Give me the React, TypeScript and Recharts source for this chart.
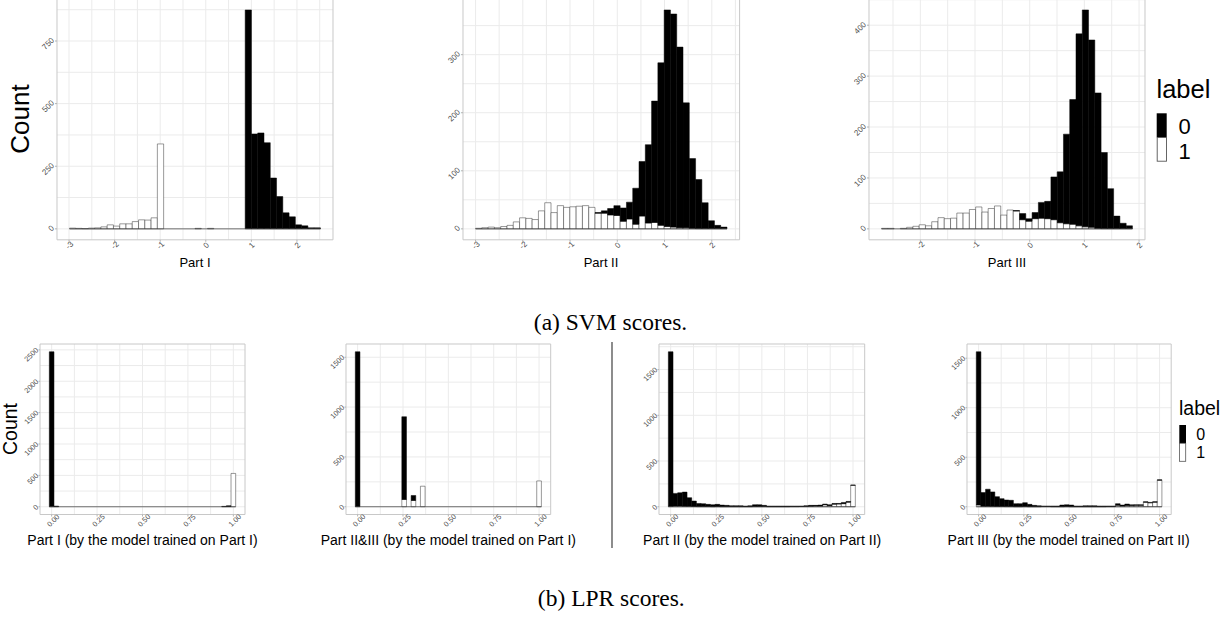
import React from "react";
import {
  BarChart,
  Bar,
  XAxis,
  YAxis,
  CartesianGrid,
  ReferenceArea,
  ReferenceLine,
} from "recharts";

const SANS = "'Liberation Sans', Arial, Helvetica, sans-serif";
const SERIF = "'Liberation Serif', 'Times New Roman', serif";

// 40 bins per histogram; range = centre of first and last bin (ggplot bins)
// (a) SVM scores
const svm1Range = [-2.92, 2.447];
const svm1One = [3, 2, 1, 3, 4, 8, 16, 11, 20, 20, 29, 36, 35, 44, 339, 0, 0, 0, 0, 0, 2, 0, 2, 0, 0, 0, 0, 0, 0, 0, 0, 0, 0, 0, 0, 0, 0, 0, 0, 0];
const svm1Zero = [0, 0, 0, 0, 0, 0, 0, 0, 0, 0, 0, 0, 0, 0, 0, 0, 0, 0, 0, 0, 0, 0, 0, 0, 0, 0, 0, 0, 874, 379, 383, 344, 203, 129, 64, 48, 16, 12, 4, 4];

const svm2Range = [-2.933, 2.256];
const svm2One = [1, 2, 3, 2, 4, 6, 12, 19, 18, 16, 31, 45, 28, 40, 37, 38, 39, 40, 37, 27, 27, 24, 23, 13, 17, 8, 22, 10, 11, 6, 4, 3, 2, 2, 1, 0, 0, 0, 0, 0];
const svm2Zero = [0, 0, 0, 0, 0, 0, 0, 0, 0, 0, 0, 0, 0, 0, 0, 0, 0, 0, 0, 1, 4, 11, 17, 23, 29, 62, 94, 135, 209, 280, 373, 367, 311, 215, 120, 85, 45, 14, 6, 3];

const svm3Range = [-2.652, 1.822];
const svm3One = [1, 1, 0, 1, 3, 5, 8, 6, 14, 22, 20, 21, 31, 31, 38, 43, 33, 40, 45, 27, 37, 35, 18, 15, 20, 21, 20, 18, 12, 10, 9, 6, 4, 3, 1, 0, 0, 0, 0, 0];
const svm3Zero = [0, 0, 0, 0, 0, 0, 0, 0, 0, 0, 0, 0, 0, 0, 0, 0, 0, 0, 0, 0, 0, 1, 12, 5, 12, 31, 34, 84, 100, 176, 245, 377, 426, 368, 266, 150, 79, 25, 11, 6];

// (b) LPR scores
const lprRange = [0, 1];
const lpr1Zero = [2470, 10, 0, 0, 0, 0, 0, 0, 0, 0, 0, 0, 0, 0, 0, 0, 0, 0, 0, 0, 0, 0, 0, 0, 0, 0, 0, 0, 0, 0, 0, 0, 0, 0, 0, 0, 0, 6, 12, 0];
const lpr1One = [0, 0, 0, 0, 0, 0, 0, 0, 0, 0, 0, 0, 0, 0, 0, 0, 0, 0, 0, 0, 0, 0, 0, 0, 0, 0, 0, 0, 0, 0, 0, 0, 0, 0, 0, 0, 0, 0, 4, 531];

const lpr2Zero = [1555, 0, 0, 0, 0, 0, 0, 0, 0, 0, 830, 0, 50, 0, 0, 0, 0, 0, 0, 0, 0, 0, 0, 0, 0, 0, 0, 0, 0, 0, 0, 0, 0, 0, 0, 0, 0, 0, 0, 0];
const lpr2One = [0, 0, 0, 0, 0, 0, 0, 0, 0, 0, 73, 0, 63, 0, 206, 0, 0, 0, 0, 0, 0, 0, 0, 0, 0, 0, 0, 0, 0, 0, 0, 0, 0, 0, 0, 0, 0, 0, 0, 259];

const lpr3Zero = [1690, 138, 145, 154, 94, 59, 34, 31, 24, 21, 24, 17, 14, 10, 10, 10, 6, 10, 20, 20, 13, 6, 6, 6, 6, 6, 5, 5, 4, 7, 9, 7, 10, 7, 10, 8, 6, 13, 8, 2];
const lpr3One = [5, 8, 8, 6, 5, 3, 2, 2, 2, 1, 2, 1, 1, 1, 1, 1, 1, 1, 2, 2, 2, 1, 1, 1, 1, 1, 2, 2, 3, 4, 6, 8, 8, 22, 12, 28, 30, 34, 50, 235];

const lpr4Zero = [1547, 138, 172, 146, 99, 79, 66, 63, 30, 30, 39, 23, 13, 9, 7, 7, 6, 6, 16, 18, 16, 6, 6, 9, 9, 9, 6, 6, 5, 5, 17, 9, 15, 8, 6, 6, 6, 4, 5, 4];
const lpr4One = [18, 5, 5, 4, 3, 3, 2, 2, 1, 1, 2, 1, 1, 1, 0, 0, 1, 1, 1, 2, 1, 1, 1, 1, 1, 1, 1, 1, 2, 2, 14, 8, 12, 12, 14, 14, 45, 40, 46, 268];

const svmXTicks = [-3, -2, -1, 0, 1, 2];
const svm3XTicks = [-2, -1, 0, 1, 2];
const lprXTicks = [0, 0.25, 0.5, 0.75, 1];
const svm1YTicks = [0, 250, 500, 750];
const svm2YTicks = [0, 100, 200, 300];
const svm3YTicks = [0, 100, 200, 300, 400];
const lpr1YTicks = [0, 500, 1000, 1500, 2000, 2500];
const lprYTicks = [0, 500, 1000, 1500];

const svmTitles = ["Part I", "Part II", "Part III"];
const lprTitles = [
  "Part I (by the model trained on Part I)",
  "Part II&III (by the model trained on Part I)",
  "Part II (by the model trained on Part II)",
  "Part III (by the model trained on Part II)",
];
const legendLabels = ["0", "1"];

type Box = { left: number; top: number; width: number; height: number };

// minor grid lines halfway between majors, like ggplot
function withMinors(major: number[], lo: number, hi: number) {
  const step = major[1] - major[0];
  const out = [...major];
  for (let v = major[0] - step / 2; v <= major[major.length - 1] + step; v += step) {
    if (v > lo && v < hi) out.push(v);
  }
  return out;
}

interface PanelProps {
  box: Box;
  range: number[];
  zero: number[];
  one: number[];
  xTicks: number[];
  yTicks: number[];
  xFmt: (v: number) => string;
  fs: number;
  small?: boolean;
}

function Histogram({ box, range, zero, one, xTicks, yTicks, xFmt, fs, small }: PanelProps) {
  const n = zero.length;
  const w = (range[1] - range[0]) / (n - 1);
  const e0 = range[0] - w / 2;
  const e1 = range[1] + w / 2;
  const ex = (e1 - e0) * 0.05;
  const lo = e0 - ex;
  const hi = e1 + ex;
  const ymax = Math.max(...zero.map((z, i) => z + one[i]));
  const ylo = -0.05 * ymax;
  const yhi = 1.05 * ymax;
  const pad = (ex / (hi - lo)) * box.width;
  const band = (box.width - 2 * pad) / n;
  const rows = zero.map((z, i) => ({ bin: i, mid: range[0] + i * w, zero: z, one: one[i] }));

  const YW = 30;
  const XH = 30;
  const MT = 8;
  const MR = 8;
  const xMargin = small ? 4 : 3.5;
  const xdx = small ? 1.5 : 0.5;
  const yGap = small ? 1.5 : 2;
  const yOff = small ? -1 : -2;

  return (
    <div style={{ position: "absolute", left: box.left - YW, top: box.top - MT }}>
      <BarChart
        width={YW + box.width + MR}
        height={MT + box.height + XH}
        data={rows}
        margin={{ top: MT, right: MR, bottom: 0, left: 0 }}
        barCategoryGap={0}
        barGap={0}
        barSize={band * 0.999}
      >
        <CartesianGrid
          stroke="#EBEBEB"
          verticalValues={withMinors(xTicks, lo, hi)}
          horizontalValues={withMinors(yTicks, ylo, yhi)}
        />
        <XAxis xAxisId="bin" dataKey="bin" type="category" hide padding={{ left: pad, right: pad }} />
        <XAxis
          dataKey="mid"
          type="number"
          domain={[lo, hi]}
          allowDataOverflow
          ticks={xTicks}
          interval={0}
          height={XH}
          axisLine={false}
          tickSize={2}
          tickMargin={xMargin}
          tickLine={{ stroke: "#B3B3B3" }}
          tick={(p: any) => (
            <text
              x={p.x + xdx}
              y={p.y}
              transform={`rotate(-45 ${p.x + xdx} ${p.y})`}
              textAnchor="middle"
              dominantBaseline="central"
              fontSize={fs}
              fontFamily={SANS}
              fill="#4D4D4D"
            >
              {xFmt(p.payload.value)}
            </text>
          )}
        />
        <YAxis
          type="number"
          domain={[ylo, yhi]}
          allowDataOverflow
          ticks={yTicks}
          interval={0}
          width={YW}
          axisLine={false}
          tickSize={yGap}
          tickMargin={yGap}
          tickLine={{ stroke: "#B3B3B3" }}
          tick={(p: any) => (
            <text
              x={p.x}
              y={p.y + yOff}
              transform={`rotate(-45 ${p.x} ${p.y + yOff})`}
              textAnchor="end"
              dominantBaseline="central"
              fontSize={fs}
              fontFamily={SANS}
              fill="#4D4D4D"
            >
              {p.payload.value}
            </text>
          )}
        />
        <ReferenceArea x1={lo} x2={hi} y1={ylo} y2={yhi} fill="none" stroke="#C8C8C8" ifOverflow="visible" />
        <Bar xAxisId="bin" dataKey="one" stackId="s" fill="#FFFFFF" stroke="#333" strokeWidth={0.5} isAnimationActive={false} />
        <Bar xAxisId="bin" dataKey="zero" stackId="s" fill="#000000" stroke="#000" strokeWidth={0.5} isAnimationActive={false} />
        <ReferenceLine segment={[{ x: e0, y: 0 }, { x: e1, y: 0 }]} stroke="#333" strokeWidth={0.7} />
      </BarChart>
    </div>
  );
}

const svmBoxes: Box[] = [
  { left: 57, top: -1.5, width: 276, height: 240.8 },
  { left: 462.7, top: -1.5, width: 276.6, height: 240.8 },
  { left: 869, top: -1.5, width: 276, height: 240.8 },
];
const lprBoxes: Box[] = [
  { left: 40, top: 344, width: 205, height: 170.5 },
  { left: 346, top: 344, width: 204.7, height: 170.5 },
  { left: 659.3, top: 344, width: 205.7, height: 170.5 },
  { left: 966.5, top: 344, width: 204.2, height: 170.5 },
];

const svmFmt = (v: number) => String(v);
const lprFmt = (v: number) => v.toFixed(2);

export default function App() {
  return (
    <div
      style={{
        position: "absolute",
        left: 0,
        top: 0,
        width: 1226,
        height: 619,
        overflow: "hidden",
        background: "#fff",
      }}
    >
      <Histogram box={svmBoxes[0]} range={svm1Range} zero={svm1Zero} one={svm1One} xTicks={svmXTicks} yTicks={svm1YTicks} xFmt={svmFmt} fs={8} />
      <Histogram box={svmBoxes[1]} range={svm2Range} zero={svm2Zero} one={svm2One} xTicks={svmXTicks} yTicks={svm2YTicks} xFmt={svmFmt} fs={8} />
      <Histogram box={svmBoxes[2]} range={svm3Range} zero={svm3Zero} one={svm3One} xTicks={svm3XTicks} yTicks={svm3YTicks} xFmt={svmFmt} fs={8} />

      <Histogram box={lprBoxes[0]} range={lprRange} zero={lpr1Zero} one={lpr1One} xTicks={lprXTicks} yTicks={lpr1YTicks} xFmt={lprFmt} fs={7.3} small />
      <Histogram box={lprBoxes[1]} range={lprRange} zero={lpr2Zero} one={lpr2One} xTicks={lprXTicks} yTicks={lprYTicks} xFmt={lprFmt} fs={7.3} small />
      <Histogram box={lprBoxes[2]} range={lprRange} zero={lpr3Zero} one={lpr3One} xTicks={lprXTicks} yTicks={lprYTicks} xFmt={lprFmt} fs={7.3} small />
      <Histogram box={lprBoxes[3]} range={lprRange} zero={lpr4Zero} one={lpr4One} xTicks={lprXTicks} yTicks={lprYTicks} xFmt={lprFmt} fs={7.3} small />

      {/* titles, legends, captions */}
      <svg width={1226} height={619} style={{ position: "absolute", left: 0, top: 0, pointerEvents: "none" }}>
        <g fontFamily={SANS} fill="#000">
          <text transform="translate(29 119) rotate(-90)" textAnchor="middle" fontSize={26}>Count</text>
          <text transform="translate(16.5 429) rotate(-90)" textAnchor="middle" fontSize={19.5}>Count</text>

          {svmBoxes.map((b, i) => (
            <text key={i} x={b.left + b.width / 2} y={266.5} textAnchor="middle" fontSize={13}>{svmTitles[i]}</text>
          ))}
          {lprBoxes.map((b, i) => (
            <text key={i} x={b.left + b.width / 2} y={545} textAnchor="middle" fontSize={14}>{lprTitles[i]}</text>
          ))}

          {/* legend (a) */}
          <text x={1156.5} y={98.3} fontSize={25.5}>label</text>
          <rect x={1156.7} y={113.3} width={10} height={24} fill="#000" />
          <rect x={1157.2} y={137.5} width={9.3} height={23.7} fill="#fff" stroke="#555" strokeWidth={0.9} />
          <text x={1178.5} y={133.5} fontSize={22}>{legendLabels[0]}</text>
          <text x={1178.5} y={158.5} fontSize={22}>{legendLabels[1]}</text>

          {/* legend (b) */}
          <text x={1179} y={415} fontSize={19.5}>label</text>
          <rect x={1179.3} y={425} width={6.7} height={18} fill="#000" />
          <rect x={1179.6} y={443.3} width={6.1} height={18} fill="#fff" stroke="#555" strokeWidth={0.8} />
          <text x={1196.3} y={440} fontSize={16}>{legendLabels[0]}</text>
          <text x={1196.3} y={458.3} fontSize={16}>{legendLabels[1]}</text>
        </g>

        <line x1={612} y1={342} x2={612} y2={548} stroke="#707070" strokeWidth={1.6} />

        <g fontFamily={SERIF} fill="#000" fontSize={23.5} textAnchor="middle">
          <text x={610.5} y={330}>(a) SVM scores.</text>
          <text x={611.3} y={606}>(b) LPR scores.</text>
        </g>
      </svg>
    </div>
  );
}
